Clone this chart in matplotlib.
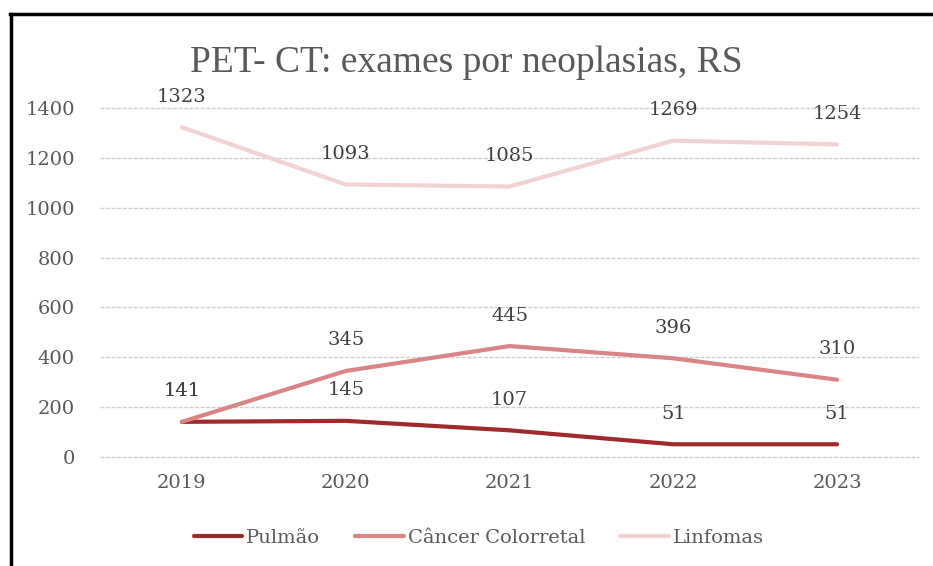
import matplotlib.pyplot as plt
from matplotlib.lines import Line2D
import numpy as np

# exam counts per year
years = ['2019', '2020', '2021', '2022', '2023']
pulmao = [141, 145, 107, 51, 51]
colorretal = [141, 345, 445, 396, 310]
linfomas = [1323, 1093, 1085, 1269, 1254]

series = [
    ('Pulmão', pulmao, '#9e2a2b'),
    ('Câncer Colorretal', colorretal, '#d98585'),
    ('Linfomas', linfomas, '#f2d3d3'),
]

TXT = '#595959'
LBL = '#404040'
FONT = 'DejaVu Serif'

fig = plt.figure(figsize=(9.33, 5.66), dpi=100)
ax = fig.add_axes([0.1072, 0.1926, 0.8778, 0.6166])

x = np.arange(len(years))
for name, vals, col in series:
    ax.plot(x, vals, color=col, lw=3, label=name, solid_capstyle='round', clip_on=False)
    for xi, v in zip(x, vals):
        ax.annotate(str(v), (xi, v), xytext=(0, 22), textcoords='offset points',
                    ha='center', va='center', fontsize=14, color=LBL, family=FONT)

ax.set_xlim(-0.5, 4.5)
ax.set_ylim(0, 1400)
ax.set_yticks(np.arange(0, 1401, 200))
ax.set_xticks(x)
ax.set_xticklabels(years)
ax.tick_params(length=0, labelsize=14, labelcolor=TXT, pad=12)
ax.tick_params(axis='y', pad=18)
for lab in ax.get_xticklabels() + ax.get_yticklabels():
    lab.set_family(FONT)
ax.grid(axis='y', color='#d0d0d0', lw=1, ls=(0, (3, 1)))
for gl in ax.get_ygridlines():
    gl.set_clip_on(False)
ax.set_axisbelow(True)
for s in ax.spines.values():
    s.set_visible(False)

fig.text(0.5, 0.89, 'PET- CT: exames por neoplasias, RS', ha='center', va='center',
         fontsize=27, color=TXT, family='Liberation Serif')

fig.legend(loc='center', bbox_to_anchor=(0.513, 0.05), ncol=3, frameon=False,
           prop={'family': FONT, 'size': 14}, labelcolor=TXT,
           handlelength=2.5, handletextpad=0.2, columnspacing=1.8)

# outer frame: top and left edges
fig.add_artist(Line2D([0.011, 1.0], [0.976, 0.976], color='black', lw=2.5,
                      transform=fig.transFigure))
fig.add_artist(Line2D([0.012, 0.012], [0.0, 0.976], color='black', lw=2.5,
                      transform=fig.transFigure))

fig.savefig('out.png', dpi=100)
